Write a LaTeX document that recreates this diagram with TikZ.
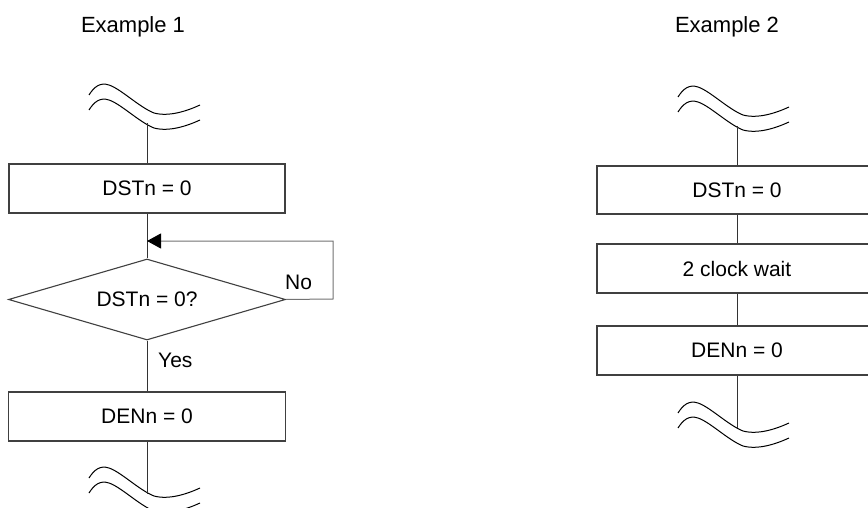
\documentclass[tikz,border=0pt]{standalone}
\usepackage{fontspec}
\setmainfont{Liberation Sans}
\usetikzlibrary{shapes.geometric,arrows.meta}
\tikzset{
  stepbox/.style={draw=black!75, line width=1.1pt, rectangle, inner sep=0pt, font=\fontsize{21}{24}\selectfont},
  decbox/.style={draw=black!75, line width=1.1pt, diamond, aspect=3.42, inner sep=0pt,
     minimum width=277pt, minimum height=81pt, font=\fontsize{21}{24}\selectfont},
  lbl/.style={font=\fontsize{21}{24}\selectfont, inner sep=0pt},
  ttl/.style={font=\fontsize{22}{25}\selectfont, inner sep=0pt, anchor=base},
  conn/.style={draw=black!80, line width=1pt},
  fbconn/.style={draw=black!55, line width=1pt},
  brk/.pic={
    \draw[line width=1pt] (0,0) .. controls (5,-8) and (11,-13) .. (20,-10)
       .. controls (32,-6) and (50,12) .. (65,18) .. controls (80,22) and (98,16) .. (111,10);
    \draw[line width=1pt] (0,15) .. controls (5,7) and (11,2) .. (20,5)
       .. controls (32,9) and (50,27) .. (65,33) .. controls (80,37) and (98,31) .. (111,25);
  }
}
\begin{document}
\begin{tikzpicture}[x=1pt,y=-1pt]
\clip (0,0) rectangle (868,508);
\fill[white] (0,0) rectangle (868,508);

% Titles
\node[ttl] (t1) at (133,33) {Example 1};
\node[ttl] (t2) at (727,33) {Example 2};

% ---------- Example 1 ----------
\pic at (89,95) {brk};
\coordinate (w1t) at (147,123);
\node[stepbox, minimum width=276pt, minimum height=49pt] (a1) at (147,188.5) {DSTn = 0};
\node[decbox] (d1) at (147,299.5) {\raisebox{-4pt}{DSTn = 0?}};
\node[stepbox, minimum width=277pt, minimum height=49pt] (a2) at (147,416.5) {DENn = 0};
\pic at (89,478) {brk};
\coordinate (w1b) at (147,494);
\coordinate (m1) at (147,241);
\coordinate (fb) at (333,299);

\draw[conn] (w1t) -- (a1.north);
\draw[conn] (a1.south) -- (d1.north);
\draw[conn] (d1.south) -- (a2.north);
\draw[conn] (a2.south) -- (w1b);
\draw[fbconn, -{Triangle[length=14pt,width=15pt,color=black]}] (d1.east) -- (fb) |- (m1);
\node[lbl, anchor=base west] (no) at (285,289) {No};
\node[lbl, anchor=base west] (yes) at (158,367) {Yes};

% ---------- Example 2 ----------
\pic at (678,97) {brk};
\coordinate (w2t) at (737,126);
\node[stepbox, minimum width=280pt, minimum height=48pt] (b1) at (737,190) {DSTn = 0};
\node[stepbox, minimum width=280pt, minimum height=49pt] (b2) at (737,268.5) {2 clock wait};
\node[stepbox, minimum width=280pt, minimum height=49pt] (b3) at (737,350.5) {DENn = 0};
\pic at (678,413) {brk};
\coordinate (w2b) at (737,428);

\draw[conn] (w2t) -- (b1.north);
\draw[conn] (b1.south) -- (b2.north);
\draw[conn] (b2.south) -- (b3.north);
\draw[conn] (b3.south) -- (w2b);
\end{tikzpicture}
\end{document}
